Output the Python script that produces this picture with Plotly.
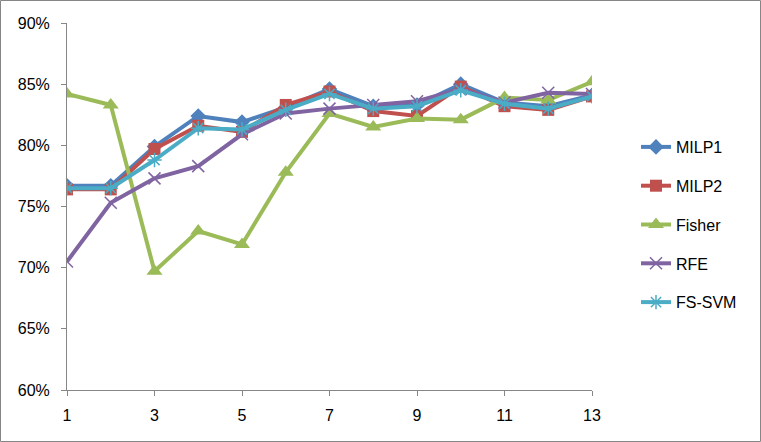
import plotly.graph_objects as go

# number of features selected
x_vals = list(range(1, 14))

# accuracy (%) per method
milp1 = [76.7, 76.7, 79.9, 82.4, 81.9, 83.1, 84.6, 83.2, 83.3, 85.0, 83.5, 83.2, 84.1]
milp2 = [76.4, 76.4, 79.7, 81.6, 81.1, 83.3, 84.4, 82.8, 82.4, 84.8, 83.2, 82.9, 84.0]
fisher = [84.2, 83.3, 69.7, 73.0, 71.9, 77.8, 82.6, 81.5, 82.2, 82.1, 83.9, 83.7, 85.2]
rfe = [70.5, 75.3, 77.3, 78.3, 80.9, 82.6, 83.0, 83.3, 83.6, 84.6, 83.5, 84.3, 84.2]
fs_svm = [76.5, 76.5, 78.8, 81.4, 81.3, 82.9, 84.2, 83.0, 83.2, 84.5, 83.4, 83.0, 84.0]

x_ticks = [1, 3, 5, 7, 9, 11, 13]
y_ticks = [60, 65, 70, 75, 80, 85, 90]
y_labels = ["60%", "65%", "70%", "75%", "80%", "85%", "90%"]

series = [
    ("MILP1", milp1, "#4F81BD", dict(symbol="diamond", size=12)),
    ("MILP2", milp2, "#C0504D", dict(symbol="square", size=12)),
    ("Fisher", fisher, "#9BBB59", dict(symbol="triangle-up", size=14)),
    ("RFE", rfe, "#8064A2", dict(symbol="x-thin-open", size=12, line=dict(width=1.5))),
    ("FS-SVM", fs_svm, "#4BACC6", dict(symbol="asterisk-open", size=12, line=dict(width=1.5))),
]

fig = go.Figure()
for name, vals, color, marker in series:
    marker = dict(marker, color=color)
    if "line" in marker:
        marker["line"] = dict(marker["line"], color=color)
    fig.add_trace(
        go.Scatter(
            x=x_vals,
            y=vals,
            mode="lines+markers",
            name=name,
            legendgroup=name,
            line=dict(color=color, width=4),
            marker=marker,
        )
    )

# left/top/right/bottom margins match the plot area in the reference
L, R, T, B = 67, 169, 23, 52
W, H = 761, 442
pw, ph = W - L - R, H - T - B

fig.update_layout(
    width=W,
    height=H,
    margin=dict(l=L, r=R, t=T, b=B, autoexpand=False),
    paper_bgcolor="white",
    plot_bgcolor="white",
    font=dict(family="Liberation Sans, Arial, sans-serif", size=16, color="#000000"),
    legend=dict(
        x=(636 - L) / pw,
        y=(H - B - 130) / ph,
        xanchor="left",
        yanchor="top",
        font=dict(size=16),
        tracegroupgap=15,
        bgcolor="rgba(0,0,0,0)",
    ),
    showlegend=True,
)

fig.update_xaxes(
    range=[1, 13],
    tickvals=x_ticks,
    automargin=False,
    showgrid=False,
    zeroline=False,
    showline=True,
    linecolor="#868686",
    linewidth=1,
    ticks="outside",
    ticklen=5,
    tickcolor="#868686",
    ticklabelstandoff=6,
)
fig.update_yaxes(
    range=[60, 90],
    tickvals=y_ticks,
    ticktext=y_labels,
    automargin=False,
    showgrid=False,
    zeroline=False,
    showline=True,
    linecolor="#868686",
    linewidth=1,
    ticks="outside",
    ticklen=5,
    tickcolor="#868686",
    ticklabelstandoff=8,
)

# outer border of the chart area
fig.add_shape(
    type="rect",
    xref="paper",
    yref="paper",
    x0=(0.5 - L) / pw,
    x1=(W - 0.5 - L) / pw,
    y0=(H - B - (H - 0.5)) / ph,
    y1=(H - B - 0.5) / ph,
    line=dict(color="#868686", width=1),
    layer="below",
)

# drop the browser's default page margin so the chart sits at 0,0
fig.write_html(
    "out.html",
    config={"displayModeBar": False},
    post_script="document.body.style.margin='0';document.body.style.overflow='hidden';",
)
